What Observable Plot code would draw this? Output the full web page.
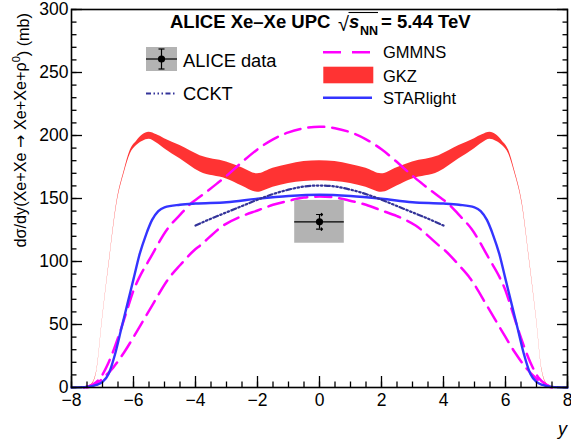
<!DOCTYPE html>
<html><head><meta charset="utf-8">
<script src="https://cdn.jsdelivr.net/npm/d3@7"></script>
<script src="https://cdn.jsdelivr.net/npm/@observablehq/plot@0.6"></script>
<style>html,body{margin:0;padding:0;background:#fff} svg{display:block}</style>
</head><body><div id="chart"></div>
<script>
// ---------- data ----------
const gkzX    = [-7.6, -7.35, -7.18, -7.0, -6.75, -6.54, -6.3, -6.1, -5.9, -5.7, -5.5, -5.25, -5.0, -4.5, -3.85, -3.0, -2.5, -2.0, -1.5, -1.0, -0.5, 0, 0.5, 1.0, 1.5, 2.0, 2.5, 3.0, 3.85, 4.5, 5.0, 5.25, 5.5, 5.7, 5.9, 6.1, 6.3, 6.54, 6.75, 7.0, 7.18, 7.35, 7.6];
const gkzLow  = [0, 2, 13, 54, 105, 145, 170, 185.5, 192, 195.5, 197, 194, 189.5, 181.5, 171, 165.5, 160, 155, 159, 162, 163.5, 164, 163.5, 162, 159, 155, 160, 165.5, 171, 181.5, 189.5, 194, 197, 195.5, 192, 185.5, 170, 145, 105, 54, 13, 2, 0];
const gkzHigh = [0, 2.6, 14, 55.2, 106.5, 146.8, 172, 188.5, 195.5, 200.5, 202.5, 200.5, 197.5, 192, 184, 179, 174.5, 169.6, 174, 177, 179.3, 180, 179.3, 177, 174, 169.6, 174.5, 179, 184, 192, 197.5, 200.5, 202.5, 200.5, 195.5, 188.5, 172, 146.8, 106.5, 55.2, 14, 2.6, 0];

const gmmnsUpX = [-7.6, -7.3, -7.06, -6.8, -6.45, -6.2, -6.0, -5.8, -5.5, -4.9, -4.5, -4.15, -3.85, -3.3, -3.0, -2.45, -2.0, -1.5, -1.0, -0.5, 0, 0.5, 1.0, 1.5, 2.0, 2.45, 3.0, 3.3, 3.85, 4.15, 4.5, 4.9, 5.5, 5.8, 6.0, 6.2, 6.45, 6.8, 7.06, 7.3, 7.6];
const gmmnsUpY = [0, 2.5, 8, 20, 43, 62, 77, 88, 101, 126, 137, 146, 151.5, 162, 168, 180, 189, 197, 202.5, 205.8, 207, 205.8, 202.5, 197, 189, 180, 168, 162, 151.5, 146, 137, 126, 101, 88, 77, 62, 43, 20, 8, 2.5, 0];

const gmmnsLoX = [-7.5, -7.25, -7.0, -6.65, -6.3, -5.88, -5.4, -4.85, -4.5, -4.05, -3.85, -3.1, -2.5, -2.0, -1.5, -0.95, -0.5, 0, 0.5, 0.95, 1.5, 2.0, 2.5, 3.1, 3.85, 4.05, 4.5, 4.85, 5.4, 5.88, 6.3, 6.65, 7.0, 7.25, 7.5];
const gmmnsLoY = [0, 2, 7, 16, 28, 45, 65, 87, 97, 108.7, 112.7, 128.6, 136, 140.5, 145, 148.4, 150.8, 151.5, 150.8, 148.4, 145, 140.5, 136, 128.6, 112.7, 108.7, 97, 87, 65, 45, 28, 16, 7, 2, 0];

const starX = [-8, -7.5, -7.2, -7.0, -6.8, -6.6, -6.4, -6.2, -6.0, -5.8, -5.6, -5.4, -5.2, -5.0, -4.5, -4.0, -3.0, -2.0, -1.0, 0, 1.0, 2.0, 3.0, 4.0, 4.5, 5.0, 5.2, 5.4, 5.6, 5.8, 6.0, 6.2, 6.4, 6.6, 6.8, 7.0, 7.2, 7.5, 8];
const starY = [0, 0.5, 2, 4.5, 11, 26, 46, 66, 86, 106, 121, 133, 140, 143, 145, 146, 147, 149.8, 152, 153, 152, 149.8, 147, 146, 145, 143, 140, 133, 121, 106, 86, 66, 46, 26, 11, 4.5, 2, 0.5, 0];

const cckX = [-4, -3.5, -3, -2.5, -2, -1.5, -1, -0.5, 0, 0.5, 1, 1.5, 2, 2.5, 3, 3.5, 4];
const cckY = [128.5, 134, 139, 144, 149, 153.5, 157, 159.5, 160.3, 159.5, 157, 153.5, 149, 144, 139, 134, 128.5];

const aliceX = [0];
const aliceY = [131.5];
const aliceXErr = [0.8];
const aliceStatLo = [125.7];
const aliceStatHi = [137.3];
const aliceSysLo = [114.5];
const aliceSysHi = [148.5];

const xMajorTicks = [-8, -6, -4, -2, 0, 2, 4, 6, 8];
const yMajorTicks = [0, 50, 100, 150, 200, 250, 300];
const xMinorTicks = d3.range(-8, 8.001, 0.5);
const yMinorTicks = d3.range(0, 300.001, 10);

// ---------- tables ----------
const gkz = gkzX.map((x, i) => ({x, lo: gkzLow[i], hi: gkzHigh[i]}));
const gmmnsUp = gmmnsUpX.map((x, i) => ({x, y: gmmnsUpY[i]}));
const gmmnsLo = gmmnsLoX.map((x, i) => ({x, y: gmmnsLoY[i]}));
const star = starX.map((x, i) => ({x, y: starY[i]}));
const cckt = cckX.map((x, i) => ({x, y: cckY[i]}));
const alice = aliceX.map((x, i) => ({
  x, y: aliceY[i], x1: x - aliceXErr[i], x2: x + aliceXErr[i],
  slo: aliceStatLo[i], shi: aliceStatHi[i], ylo: aliceSysLo[i], yhi: aliceSysHi[i]
}));

const FONT = "'Liberation Sans', Arial, Helvetica, sans-serif";
const RED = "#ff3333", MAG = "#ff00ff", BLUE = "#3434ff", NAVY = "#333399", GRAY = "#b3b3b3";
const CCKT_DASH = "5,2.5,1.5,2.5,1.5,2.5,1.5,2.5";
const GM_DASH = "16,8";

const plot = Plot.plot({
  width: 571, height: 445,
  marginLeft: 71, marginRight: 4, marginTop: 9, marginBottom: 58,
  style: {fontFamily: FONT, fontSize: "17.5px", color: "black", background: "white"},
  x: {domain: [-8, 8]},
  y: {domain: [0, 300]},
  marks: [
    Plot.areaY(gkz, {x: "x", y1: "lo", y2: "hi", fill: RED, curve: "monotone-x"}),
    Plot.line(gmmnsUp, {x: "x", y: "y", stroke: MAG, strokeWidth: 2.5, strokeDasharray: GM_DASH, curve: "monotone-x"}),
    Plot.line(gmmnsLo, {x: "x", y: "y", stroke: MAG, strokeWidth: 2.5, strokeDasharray: GM_DASH, curve: "monotone-x"}),
    Plot.line(star, {x: "x", y: "y", stroke: BLUE, strokeWidth: 2.4, curve: "monotone-x"}),
    Plot.line(cckt, {x: "x", y: "y", stroke: NAVY, strokeWidth: 2.2, strokeDasharray: CCKT_DASH, curve: "monotone-x"}),
    // ALICE data point
    Plot.rect(alice, {x1: "x1", x2: "x2", y1: "ylo", y2: "yhi", fill: GRAY}),
    Plot.ruleY(alice, {y: "y", x1: "x1", x2: "x2", stroke: "black", strokeWidth: 1.2}),
    Plot.ruleX(alice, {x: "x", y1: "slo", y2: "shi", stroke: "black", strokeWidth: 1.2}),
    Plot.vector(alice, {x: "x", y: "slo", length: 6, rotate: 90, anchor: "middle", stroke: "black", strokeWidth: 1.2}),
    Plot.vector(alice, {x: "x", y: "shi", length: 6, rotate: 90, anchor: "middle", stroke: "black", strokeWidth: 1.2}),
    Plot.dot(alice, {x: "x", y: "y", r: 3.6, fill: "black"}),
    // axes: inward ticks (ROOT style)
    Plot.axisX({ticks: xMajorTicks, tickSize: -11, tickPadding: 17, strokeWidth: 1.3, label: null}),
    Plot.axisX({ticks: xMinorTicks, tickSize: -5.5, strokeWidth: 1.3, fill: "none", label: null}),
    Plot.axisY({ticks: yMajorTicks, tickSize: -11, tickPadding: 14, strokeWidth: 1.3, label: null}),
    Plot.axisY({ticks: yMinorTicks, tickSize: -5.5, strokeWidth: 1.3, fill: "none", label: null}),
    Plot.axisY({anchor: "right", ticks: yMajorTicks, tickSize: -11, strokeWidth: 1.3, fill: "none", label: null}),
    Plot.axisY({anchor: "right", ticks: yMinorTicks, tickSize: -5.5, strokeWidth: 1.3, fill: "none", label: null}),
    Plot.frame({stroke: "black", strokeWidth: 1.6})
  ]
});

document.getElementById("chart").appendChild(plot);

// ---------- texts & legend ----------
const svg = d3.select(plot);
const ann = svg.append("g").attr("font-family", FONT).attr("fill", "black").attr("text-anchor", "start");

// y-axis title
const yl = ann.append("text")
  .attr("transform", "translate(26,13) rotate(-90)")
  .attr("text-anchor", "end")
  .attr("font-size", "16.2px");
yl.append("tspan").text("dσ/dy(Xe+Xe ");
yl.append("tspan").attr("font-family", "'DejaVu Sans', sans-serif").attr("font-size", "16px").text("→");
yl.append("tspan").text(" Xe+Xe+ρ");
yl.append("tspan").attr("dy", "-0.55em").attr("font-size", "11px").text("0");
yl.append("tspan").attr("dy", "0.55em").text(") (mb)");

// x-axis title
ann.append("text").attr("x", 567).attr("y", 435).attr("text-anchor", "end")
  .attr("font-size", "18px").attr("font-style", "italic").text("y");

// plot title
const tt = ann.append("g").attr("font-weight", "bold");
tt.append("text").attr("x", 170).attr("y", 28.3).attr("font-size", "18.5px").text("ALICE Xe–Xe UPC");
tt.append("text").attr("x", 338).attr("y", 31).attr("font-size", "20px").attr("font-weight", "normal").text("√");
ann.append("line").attr("x1", 348.5).attr("x2", 378).attr("y1", 12.5).attr("y2", 12.5)
  .attr("stroke", "black").attr("stroke-width", 1.1);
tt.append("text").attr("x", 349).attr("y", 28.3).attr("font-size", "18.5px").attr("font-style", "italic").text("s");
tt.append("text").attr("x", 360).attr("y", 34.5).attr("font-size", "12.5px").text("NN");
tt.append("text").attr("x", 381).attr("y", 28.3).attr("font-size", "18.5px").text("= 5.44 TeV");

// left legend
const L = ann.append("g");
L.append("rect").attr("x", 146).attr("y", 47).attr("width", 31).attr("height", 24).attr("fill", GRAY);
L.append("line").attr("x1", 146).attr("x2", 177).attr("y1", 59).attr("y2", 59).attr("stroke", "black").attr("stroke-width", 1.2);
L.append("line").attr("x1", 161.5).attr("x2", 161.5).attr("y1", 49).attr("y2", 69).attr("stroke", "black").attr("stroke-width", 1.2);
L.append("line").attr("x1", 158.5).attr("x2", 164.5).attr("y1", 49).attr("y2", 49).attr("stroke", "black").attr("stroke-width", 1.2);
L.append("line").attr("x1", 158.5).attr("x2", 164.5).attr("y1", 69).attr("y2", 69).attr("stroke", "black").attr("stroke-width", 1.2);
L.append("circle").attr("cx", 161.5).attr("cy", 59).attr("r", 3.6).attr("fill", "black");
L.append("text").attr("x", 183).attr("y", 66.5).attr("font-size", "18.3px").text("ALICE data");
L.append("line").attr("x1", 146).attr("x2", 176).attr("y1", 93.5).attr("y2", 93.5)
  .attr("stroke", NAVY).attr("stroke-width", 2.2).attr("stroke-dasharray", CCKT_DASH);
L.append("text").attr("x", 183).attr("y", 100).attr("font-size", "18.3px").text("CCKT");

// right legend
const R = ann.append("g");
R.append("line").attr("x1", 323).attr("x2", 371).attr("y1", 52.3).attr("y2", 52.3)
  .attr("stroke", MAG).attr("stroke-width", 2.4).attr("stroke-dasharray", "18,11");
R.append("text").attr("x", 383).attr("y", 58.3).attr("font-size", "16.5px").text("GMMNS");
R.append("rect").attr("x", 323.3).attr("y", 66.7).attr("width", 50).attr("height", 16.6).attr("fill", RED);
R.append("text").attr("x", 383).attr("y", 81.7).attr("font-size", "16.5px").text("GKZ");
R.append("line").attr("x1", 323).attr("x2", 372).attr("y1", 97.7).attr("y2", 97.7)
  .attr("stroke", BLUE).attr("stroke-width", 2.4);
R.append("text").attr("x", 383).attr("y", 104).attr("font-size", "16.5px").text("STARlight");
</script>
</body></html>
